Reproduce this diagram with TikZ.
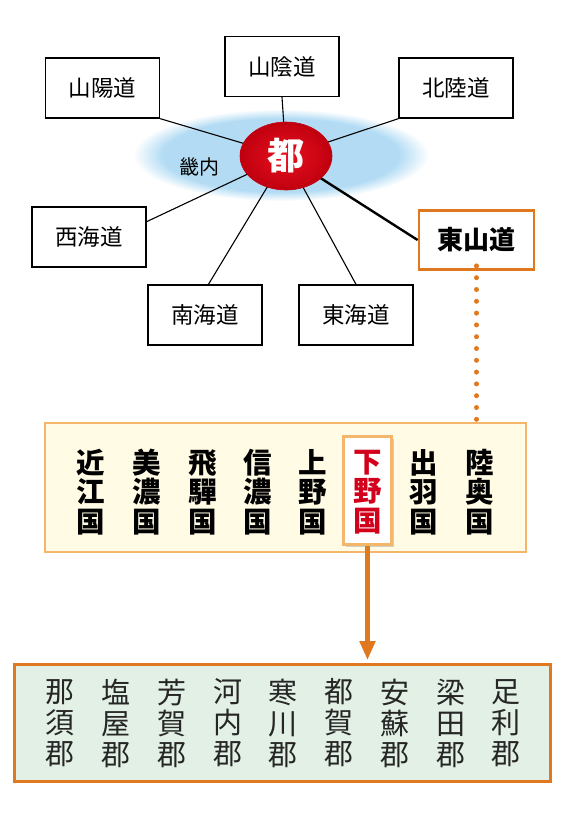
\documentclass[tikz,border=0pt]{standalone}
\usepackage{fontspec}
\newfontfamily\jp{Noto Sans CJK JP}
\usetikzlibrary{arrows.meta,shadows,calc,shapes.geometric}
\definecolor{kblue}{HTML}{B3DCF4}
\definecolor{dorange}{HTML}{E07820}
\definecolor{lorange}{HTML}{F3B66C}
\definecolor{cream}{HTML}{FFFBE4}
\definecolor{mint}{HTML}{E2F0E5}
\definecolor{kred}{HTML}{D2001C}
\definecolor{mred}{HTML}{E8101F}
\definecolor{mredd}{HTML}{C0000F}
\pgfdeclareradialshading{kinai}{\pgfpointorigin}{color(0bp)=(kblue); color(20bp)=(kblue); color(25bp)=(white); color(50bp)=(white)}
\begin{document}
\begin{tikzpicture}[x=1pt,y=-1pt,font=\jp,
  dobox/.style={draw=black,line width=1.3pt,fill=white,minimum width=114pt,minimum height=60pt,inner sep=0pt,font=\jp\fontsize{22.5}{26}\selectfont},
  conn/.style={line width=1.1pt,draw=black},
  colp/.style={align=center,inner sep=0pt,font=\jp\bfseries\fontsize{28.5}{29.5}\selectfont},
  colg/.style={align=center,inner sep=0pt,text=black!85,font=\jp\fontsize{29}{31}\selectfont}]
\useasboundingbox (0,0) rectangle (569,815);
% kinai area
\shade[shading=kinai] (281,155) ellipse [x radius=148pt, y radius=46pt];
% boxes
\node[dobox] (sanyo) at (102.5,88) {山陽道};
\node[dobox] (sanin) at (282,66.5) {山陰道};
\node[dobox] (hoku) at (456,88) {北陸道};
\node[dobox] (sai) at (89,237) {西海道};
\node[dobox] (nan) at (205,315) {南海道};
\node[dobox] (tokai) at (356,315) {東海道};
\node[draw=dorange,line width=2.8pt,fill=white,minimum width=115pt,minimum height=59pt,inner sep=0pt,font=\jp\bfseries\fontsize{26}{30}\selectfont] (tosan) at (476.5,240) {東山道};
% connectors
\coordinate (c) at (286,156);
\draw[conn] (c) -- (sanyo.south east);
\draw[conn] (c) -- (sanin.south);
\draw[conn] (c) -- (hoku.south west);
\draw[conn] (c) -- ($(sai.north east)!0.25!(sai.south east)$);
\draw[conn] (c) -- ($(nan.north west)!0.53!(nan.north east)$);
\draw[conn] (c) -- ($(tokai.north west)!0.5!(tokai.north east)$);
\draw[line width=2.4pt] (c) -- (tosan.west);
% miyako
\node[ellipse,minimum width=92pt,minimum height=68pt,inner sep=0pt,inner color=mred,outer color=mredd,draw=mredd,line width=0.6pt,
  text=white,font=\jp\bfseries\fontsize{37}{40}\selectfont] (miyako) at (286,156) {都};
\node[font=\jp\fontsize{20}{24}\selectfont] (kinai) at (199,167) {畿内};
% provinces box
\node[draw=lorange,line width=2.6pt,fill=cream,minimum width=481pt,minimum height=129pt,inner sep=0pt] (prov) at (285.5,487.5) {};
\node[draw=lorange,line width=2.6pt,fill=white,minimum width=48pt,minimum height=108pt,inner sep=0pt,drop shadow={opacity=0.35,shadow xshift=2pt,shadow yshift=-2pt}] (shimo) at (367.5,490.5) {};
\foreach \x/\t [count=\i] in {91/近\\江\\国, 147/美\\濃\\国, 203/飛\\驒\\国, 258/信\\濃\\国, 313/上\\野\\国, 424/出\\羽\\国, 480/陸\\奥\\国}
  \node[colp] (p\i) at (\x,492) {\t};
\node[colp,text=kred] (pshimo) at (368,492) {下\\野\\国};
% dotted line
\draw[dorange,line width=5pt,line cap=round,dash pattern=on 0pt off 11.8pt] ([yshift=5pt]tosan.south) -- (tosan.south |- prov.north);
% districts box
\node[draw=dorange,line width=2.8pt,fill=mint,minimum width=536pt,minimum height=117pt,inner sep=0pt] (gun) at (282.5,723) {};
\foreach \x/\t [count=\i] in {60/那\\須\\郡, 116/塩\\屋\\郡, 172/芳\\賀\\郡, 228/河\\内\\郡, 283/寒\\川\\郡, 339/都\\賀\\郡, 395/安\\蘇\\郡, 451/梁\\田\\郡, 506/足\\利\\郡}
  \node[colg] (g\i) at (\x,723) {\t};
% arrow
\coordinate (atip) at (shimo.south |- gun.north);
\draw[dorange,line width=5pt,-{Triangle[width=15pt,length=19pt]},shorten >=3pt] (shimo.south) -- (atip);
\end{tikzpicture}
\end{document}
